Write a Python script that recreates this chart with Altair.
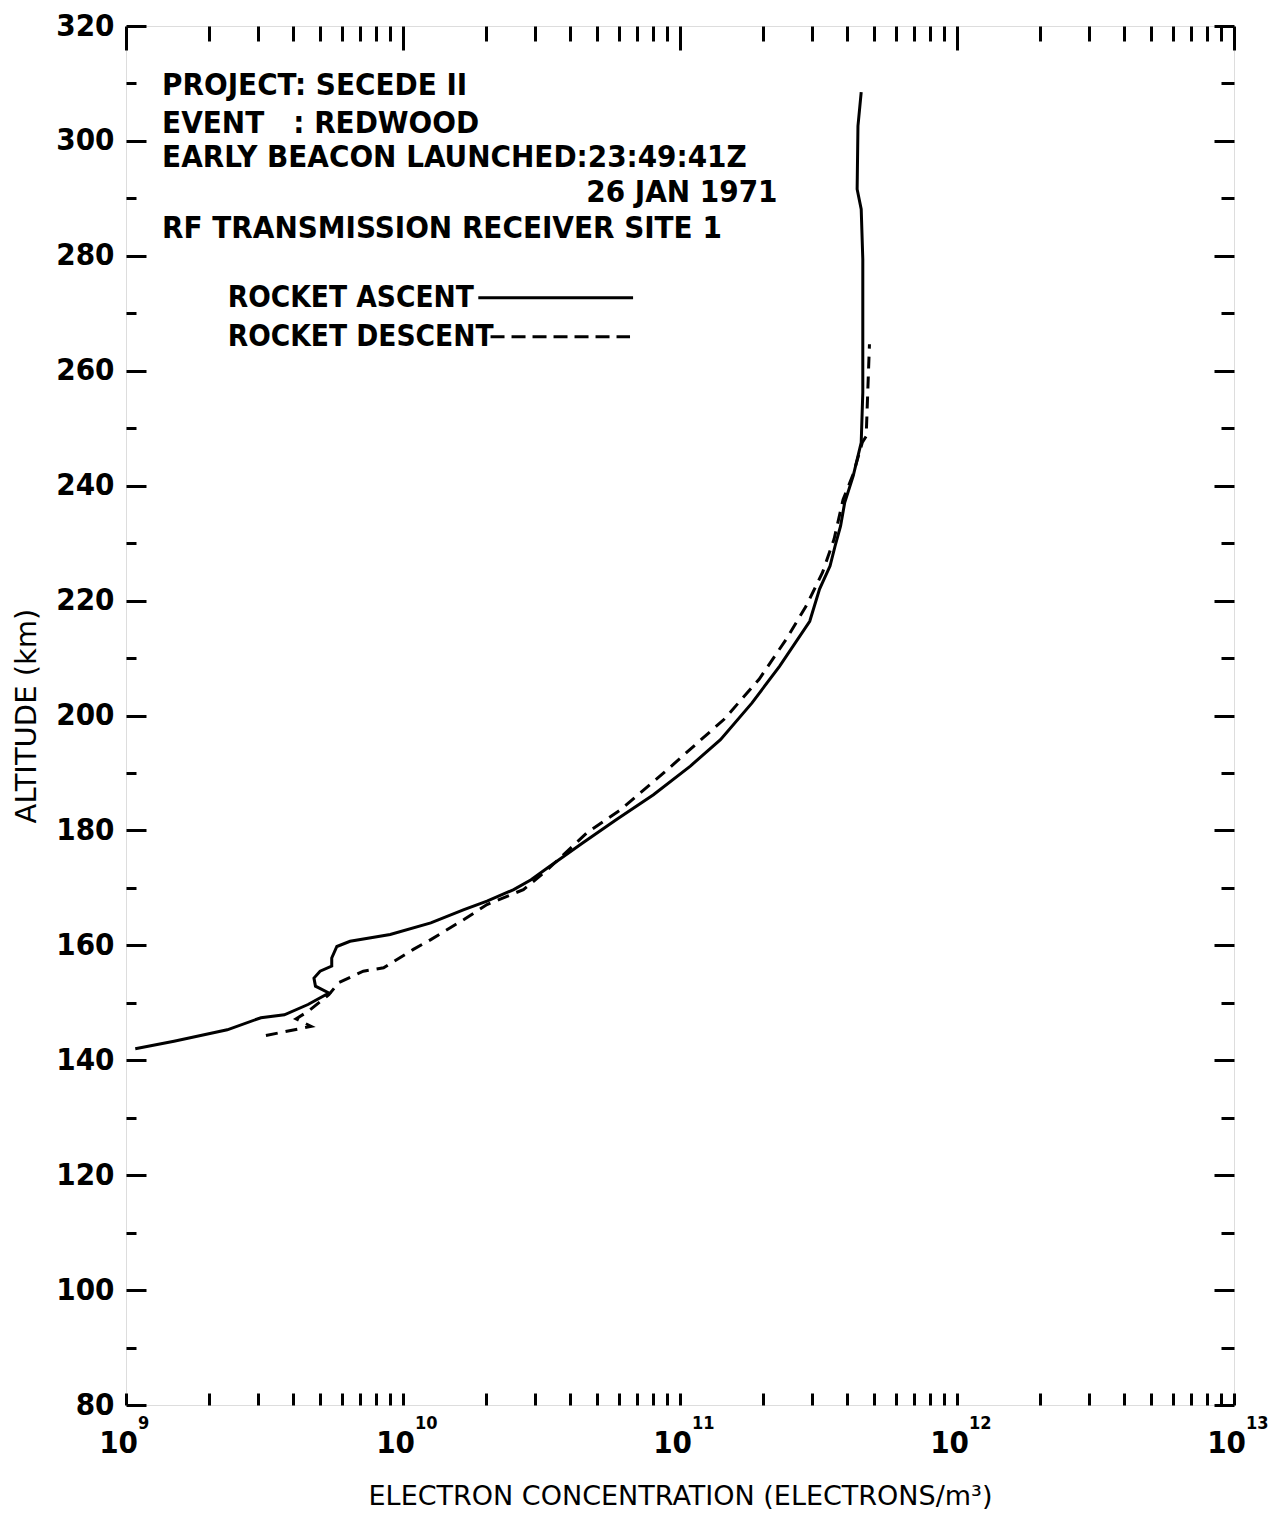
import altair as alt
import pandas as pd

# ---------------- data ----------------
asc_density = [1.08e9, 1.49e9, 2.32e9, 3.07e9, 3.73e9, 4.54e9, 5.40e9, 4.83e9, 4.77e9, 5.02e9,
               5.53e9, 5.53e9, 5.77e9, 6.44e9, 8.99e9, 1.26e10, 1.66e10, 2.01e10, 2.51e10, 2.90e10,
               3.33e10, 4.45e10, 5.90e10, 8.02e10, 1.09e11, 1.40e11, 1.82e11, 2.29e11, 2.94e11, 3.19e11,
               3.48e11, 3.63e11, 3.80e11, 3.93e11, 4.22e11, 4.51e11, 4.57e11, 4.57e11, 4.57e11, 4.51e11,
               4.36e11, 4.39e11, 4.51e11]
asc_altitude = [142.0, 143.3, 145.3, 147.4, 147.9, 149.7, 151.7, 152.9, 154.3, 155.5,
                156.4, 157.8, 159.8, 160.7, 161.9, 163.9, 166.2, 167.7, 169.7, 171.4,
                173.5, 177.8, 181.9, 186.2, 191.2, 195.8, 202.2, 208.6, 216.4, 222.0,
                226.0, 229.5, 233.0, 237.0, 241.7, 247.5, 256.2, 267.8, 279.4, 288.1,
                291.6, 302.6, 308.5]

desc_density = [3.20e9, 4.66e9, 4.11e9, 4.54e9, 5.40e9, 5.86e9, 7.19e9, 8.51e9, 1.09e10, 1.26e10,
                1.66e10, 2.01e10, 2.72e10, 3.26e10, 4.62e10, 6.10e10, 8.73e10, 1.16e11, 1.44e11, 1.93e11,
                2.42e11, 2.85e11, 3.27e11, 3.60e11, 3.88e11, 4.22e11, 4.55e11, 4.70e11, 4.76e11, 4.83e11]
desc_altitude = [144.3, 145.9, 147.2, 148.5, 151.4, 153.5, 155.5, 156.1, 159.3, 161.0,
                 164.5, 167.1, 169.7, 172.8, 179.6, 183.6, 190.0, 195.3, 199.3, 206.3,
                 213.3, 219.0, 224.9, 230.7, 237.6, 242.0, 247.5, 248.6, 256.0, 264.6]

decades = [1e9, 1e10, 1e11, 1e12, 1e13]
decade_base = ["10", "10", "10", "10", "10"]
decade_exp = ["9", "10", "11", "12", "13"]
minor_multipliers = [2, 3, 4, 5, 6, 7, 8, 9]
alt_major = [80, 100, 120, 140, 160, 180, 200, 220, 240, 260, 280, 300, 320]
alt_minor = [90, 110, 130, 150, 170, 190, 210, 230, 250, 270, 290, 310]

NB = "\u00a0"
header_text = ["PROJECT: SECEDE II", "EVENT" + NB * 3 + ": REDWOOD", "EARLY BEACON LAUNCHED:23:49:41Z",
               "26 JAN 1971", "RF TRANSMISSION RECEIVER SITE 1"]
legend_text = ["ROCKET ASCENT", "ROCKET DESCENT"]

x_title = "ELECTRON  CONCENTRATION  (ELECTRONS/m³)"
y_title = "ALTITUDE  (km)"

# ---------------- layout / style ----------------
W, H = 1108, 1379
FONT = "DejaVu Sans Condensed, DejaVu Sans"
TFONT = "DejaVu Sans"

header_x = [1.35e9, 1.35e9, 1.35e9, 4.59e10, 1.35e9]
header_y = [309.6, 302.9, 297.0, 290.9, 284.7]
legend_x = [2.33e9, 2.33e9]
legend_y = [272.7, 265.9]
legend_line_x = [1.87e10, 2.07e10]
legend_line_x2 = [6.77e10, 6.60e10]

minor_x = [m * d for d in decades[:-1] for m in minor_multipliers]
all_x = sorted(decades + minor_x)

xscale = alt.Scale(type="log", domain=[1e9, 1e13])
yscale = alt.Scale(domain=[80, 320], nice=False, zero=False)

asc_df = pd.DataFrame({"n": asc_density, "h": asc_altitude, "i": list(range(len(asc_density)))})
desc_df = pd.DataFrame({"n": desc_density, "h": desc_altitude, "i": list(range(len(desc_density)))})
head_df = pd.DataFrame({"n": header_x, "h": header_y, "t": header_text})
leg_df = pd.DataFrame({"n": legend_x, "h": legend_y, "t": legend_text})
legline_df = pd.DataFrame({"n": legend_line_x, "n2": legend_line_x2, "h": legend_y,
                           "s": ["ascent", "descent"]})
xl_df = pd.DataFrame({"n": decades, "h": [80] * 5, "b": decade_base, "e": decade_exp})


def tick_axis(orient, offset, values, size):
    return alt.Axis(orient=orient, offset=offset, values=values, tickSize=size, tickWidth=3,
                    tickColor="black", labels=False, domain=False, grid=False, title="")


X = lambda ax: alt.X("n:Q", scale=xscale, axis=ax)
Y = lambda ax: alt.Y("h:Q", scale=yscale, axis=ax)

y_label_axis = alt.Axis(orient="left", values=alt_major, ticks=False, domain=False, grid=False,
                        labelFont=FONT, labelFontSize=31, labelFontWeight="bold", labelColor="black",
                        labelPadding=12, title=y_title, titleFont=TFONT, titleFontSize=29,
                        titleFontWeight="normal", titleColor="black", titlePadding=14)
x_title_axis = alt.Axis(orient="bottom", labels=False, ticks=False, domain=False, grid=False,
                        title=x_title, titleFont=TFONT, titleFontSize=27, titleFontWeight="normal",
                        titleColor="black", titlePadding=78)

asc = alt.Chart(asc_df).mark_line(color="black", strokeWidth=3).encode(
    x=X(tick_axis("top", -H, all_x, 12)), y=Y(y_label_axis), order="i:Q")
desc = alt.Chart(desc_df).mark_line(color="black", strokeWidth=3, strokeDash=[12, 8]).encode(
    x=X(tick_axis("bottom", -H, decades, 24)), y=Y(tick_axis("right", -W, alt_major, 20)), order="i:Q")
d1 = alt.Chart(asc_df).mark_point(opacity=0).encode(
    x=X(tick_axis("bottom", -H, minor_x, 15)), y=Y(tick_axis("right", -W, alt_minor, 10)))
d2 = alt.Chart(asc_df).mark_point(opacity=0).encode(
    x=X(x_title_axis), y=Y(tick_axis("left", -W, alt_major, 20)))
d3 = alt.Chart(asc_df).mark_point(opacity=0).encode(
    x=X(None), y=Y(tick_axis("left", -W, alt_minor, 13)))

text_style = dict(align="left", baseline="middle", font=FONT, fontWeight="bold", color="black")
head = alt.Chart(head_df).mark_text(fontSize=31, **text_style).encode(x=X(None), y=Y(None), text="t:N")
leg = alt.Chart(leg_df).mark_text(fontSize=29.5, **text_style).encode(x=X(None), y=Y(None), text="t:N")
leg_solid = alt.Chart(legline_df[legline_df.s == "ascent"]).mark_rule(color="black", strokeWidth=3).encode(
    x=X(None), x2="n2:Q", y=Y(None))
leg_dash = alt.Chart(legline_df[legline_df.s == "descent"]).mark_rule(
    color="black", strokeWidth=3, strokeDash=[14, 7]).encode(x=X(None), x2="n2:Q", y=Y(None))

xl_base = alt.Chart(xl_df).mark_text(align="right", baseline="middle", dx=12, dy=39, font=FONT,
                                     fontSize=31, fontWeight="bold", color="black").encode(
    x=X(None), y=Y(None), text="b:N")
xl_exp = alt.Chart(xl_df).mark_text(align="left", baseline="middle", dx=12, dy=19, font=FONT,
                                    fontSize=18, fontWeight="bold", color="black").encode(
    x=X(None), y=Y(None), text="e:N")

chart = alt.layer(asc, desc, d1, d2, d3, head, leg, leg_solid, leg_dash, xl_base, xl_exp).resolve_axis(
    x="independent", y="independent"
).properties(
    width=W, height=H,
    padding={"left": 118, "top": 18, "right": 35, "bottom": 110},
    autosize=alt.AutoSizeParams(type="none"),
).configure_view(stroke="black", strokeWidth=3).configure(background="white")

chart.save("out.html", embed_options={"renderer": "svg", "actions": False})
